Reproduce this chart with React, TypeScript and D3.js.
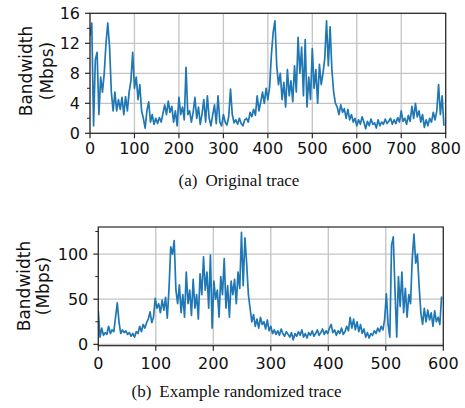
import React from "react";
import * as d3 from "d3";

// ---------- DATA ----------
// (a) Original trace, one sample every 4 s (Mbps)
const STEP_A = 4;
const traceA: number[] = [
  13.0, 14.7, 1.0, 9.8, 10.8, 2.5, 7.5, 5.5, 8.0, 12.0,
  14.7, 11.5, 5.5, 3.0, 5.5, 3.0, 4.5, 3.2, 4.8, 2.5,
  4.9, 3.0, 5.5, 7.0, 10.8, 6.0, 7.5, 4.5, 6.5, 3.0,
  2.0, 0.7, 3.0, 4.2, 1.5, 2.5, 1.2, 2.0, 1.3, 2.1,
  1.5, 2.6, 3.8, 2.5, 4.3, 2.8, 3.6, 1.5, 3.0, 1.0,
  4.8, 2.5, 3.5, 1.8, 8.8, 2.5, 3.0, 1.5, 2.8, 4.8,
  2.0, 3.5, 1.2, 2.6, 4.5, 1.5, 5.0, 2.0, 1.0, 2.5,
  3.8, 1.3, 5.0, 1.5, 1.0, 2.5, 1.5, 1.1, 2.2, 5.9,
  2.5, 1.4, 1.8, 1.2, 2.0, 1.3, 1.0, 1.8, 2.0, 1.5,
  2.8, 2.2, 3.2, 2.4, 5.0, 3.0, 4.2, 5.5, 4.0, 6.0,
  4.5, 6.2, 10.5, 13.5, 15.0, 9.0, 6.5, 8.0, 4.5, 6.8,
  3.5, 8.5, 5.0, 7.0, 4.2, 9.0, 5.5, 12.8, 8.0, 11.5,
  5.0, 12.5, 3.5, 7.5, 4.5, 11.3, 6.0, 8.5, 4.0, 9.2,
  6.5, 8.0, 10.0, 15.0, 9.0, 14.2, 8.5, 5.5, 4.0, 3.5,
  2.5, 3.8, 2.8, 3.3, 2.0, 3.2, 1.8, 2.5, 1.5, 2.0,
  1.0, 1.8, 1.2, 2.2, 1.5, 0.6, 1.6, 1.0, 1.9, 1.2,
  1.4, 0.7, 1.8, 1.0, 1.5, 1.2, 1.9, 1.3, 1.6, 2.0,
  1.2, 1.8, 1.3, 2.1, 1.5, 3.0, 1.6, 2.0, 1.2, 2.4,
  1.6, 3.6, 2.0, 4.0, 2.2, 3.0, 1.5, 2.5, 0.8, 1.8,
  1.0, 2.0, 1.5, 2.8, 1.8, 3.0, 6.5, 2.5, 5.0, 1.0,
];

// (b) Example randomized trace, one sample every 3 s (Mbps)
const STEP_B = 3;
const traceB: number[] = [
  37, 8, 18, 10, 13, 11, 20, 12, 16, 14,
  30, 46, 25, 12, 16, 13, 15, 11, 13, 9,
  12, 8, 14, 12, 20, 14, 22, 18, 24, 28,
  36, 24, 30, 51, 40, 45, 35, 49, 38, 52,
  29, 62, 108, 100, 115, 60, 45, 66, 35, 55,
  30, 80, 45, 60, 32, 72, 40, 55, 28, 78,
  55, 97, 60, 80, 40, 99, 18, 70, 50, 60,
  30, 75, 55, 95, 40, 65, 30, 70, 55, 72,
  45, 80, 62, 124, 65, 118, 90, 55, 40, 25,
  33, 20, 28, 18, 30, 22, 25, 17, 27, 15,
  20, 12, 16, 11, 15, 10, 17, 12, 9, 14,
  11, 8, 13, 5, 12, 9, 14, 10, 16, 8,
  12, 7, 13, 10, 15, 9, 12, 16, 10, 13,
  17, 11, 15, 12, 18, 22, 13, 16, 10, 15,
  12, 18, 11, 14, 20, 15, 30, 18, 28, 16,
  25, 14, 22, 12, 17, 8, 13, 7, 12, 10,
  15, 12, 18, 14, 20, 16, 28, 56, 22, 8,
  110, 119, 60, 8, 75, 42, 80, 35, 62, 30,
  55, 45, 95, 122, 90, 100, 64, 35, 22, 40,
  25, 38, 27, 35, 20, 37, 25, 30, 22, 53,
];

const xTicksA = [0, 100, 200, 300, 400, 500, 600, 700, 800];
const yTicksA = [0, 4, 8, 12, 16];
const yMinorA = [2, 6, 10, 14];
const xTicksB = [0, 100, 200, 300, 400, 500, 600];
const yTicksB = [0, 50, 100];
const yMinorB = [25, 75, 125];

const yLabelLines = ["Bandwidth", "(Mbps)"];
const captionA = ["(a)", "Original trace"];
const captionB = ["(b)", "Example randomized trace"];

// ---------- DRAWING ----------
const SANS = "'DejaVu Sans', sans-serif";
const SERIF = "'Liberation Serif', 'DejaVu Serif', serif";
const LINE = "#1f77b4";
const GRID = "#c4c4c4";
const SPINE = "#262626";

type PanelProps = {
  values: number[];
  step: number;
  xDomain: [number, number];
  yDomain: [number, number];
  left: number;
  right: number;
  top: number;
  bottom: number;
  xTicks: number[];
  yTicks: number[];
  yMinor: number[];
  labelX: [number, number];
  labelY: number;
  caption: string[];
  captionX: number;
  captionY: number;
  xLabelGap: number;
};

function Panel(p: PanelProps) {
  const x = d3.scaleLinear().domain(p.xDomain).range([p.left, p.right]);
  const y = d3.scaleLinear().domain(p.yDomain).range([p.bottom, p.top]);
  const line = d3
    .line<number>()
    .x((_, i) => x(i * p.step))
    .y((d) => y(d));
  const clipId = `clip-${Math.round(p.top)}`;
  return (
    <g>
      <defs>
        <clipPath id={clipId}>
          <rect x={p.left} y={p.top} width={p.right - p.left} height={p.bottom - p.top} />
        </clipPath>
      </defs>
      {p.xTicks.map((t) => (
        <line key={`gx${t}`} x1={x(t)} x2={x(t)} y1={p.top} y2={p.bottom} stroke={GRID} strokeWidth={1.3} />
      ))}
      {p.yTicks.map((t) => (
        <line key={`gy${t}`} x1={p.left} x2={p.right} y1={y(t)} y2={y(t)} stroke={GRID} strokeWidth={1.3} />
      ))}
      <path
        d={line(p.values) || ""}
        fill="none"
        stroke={LINE}
        strokeWidth={1.7}
        strokeLinejoin="round"
        clipPath={`url(#${clipId})`}
      />
      <rect
        x={p.left}
        y={p.top}
        width={p.right - p.left}
        height={p.bottom - p.top}
        fill="none"
        stroke={SPINE}
        strokeWidth={1.2}
      />
      {p.xTicks.map((t) => (
        <g key={`xt${t}`}>
          <line x1={x(t)} x2={x(t)} y1={p.bottom} y2={p.bottom + 5} stroke={SPINE} strokeWidth={1.2} />
          <text
            x={x(t)}
            y={p.bottom + p.xLabelGap}
            textAnchor="middle"
            dominantBaseline="hanging"
            fontFamily={SANS}
            fontSize={16}
            fill="#111"
          >
            {t}
          </text>
        </g>
      ))}
      {p.yTicks.map((t) => (
        <g key={`yt${t}`}>
          <line x1={p.left - 5} x2={p.left} y1={y(t)} y2={y(t)} stroke={SPINE} strokeWidth={1.2} />
          <text
            x={p.left - 10}
            y={y(t)}
            textAnchor="end"
            dominantBaseline="central"
            fontFamily={SANS}
            fontSize={16}
            fill="#111"
          >
            {t}
          </text>
        </g>
      ))}
      {p.yMinor.map((t) => (
        <line key={`ym${t}`} x1={p.left - 3} x2={p.left} y1={y(t)} y2={y(t)} stroke={SPINE} strokeWidth={1} />
      ))}
      {yLabelLines.map((s, i) => (
        <text
          key={s}
          transform={`translate(${p.labelX[i]},${p.labelY}) rotate(-90)`}
          textAnchor="middle"
          dominantBaseline="central"
          fontFamily={SANS}
          fontSize={17}
          fill="#111"
        >
          {s}
        </text>
      ))}
      <text x={p.captionX} y={p.captionY} textAnchor="middle" fontFamily={SERIF} fontSize={17} fill="#111">
        <tspan>{p.caption[0]}</tspan>
        <tspan dx={8}>{p.caption[1]}</tspan>
      </text>
    </g>
  );
}

export default function App() {
  return (
    <svg
      width={465}
      height={408}
      viewBox="0 0 465 408"
      style={{ position: "fixed", left: 0, top: 0, background: "#fff" }}
    >
      <rect x={0} y={0} width={465} height={408} fill="#fff" />
      <Panel
        values={traceA}
        step={STEP_A}
        xDomain={[0, 800]}
        yDomain={[0, 16]}
        left={90}
        right={445.7}
        top={13.3}
        bottom={133.3}
        xTicks={xTicksA}
        yTicks={yTicksA}
        yMinor={yMinorA}
        labelX={[25.5, 46.5]}
        labelY={71}
        caption={captionA}
        captionX={239}
        captionY={186}
        xLabelGap={9}
      />
      <Panel
        values={traceB}
        step={STEP_B}
        xDomain={[0, 600]}
        yDomain={[-1.5, 130]}
        left={98.3}
        right={443.3}
        top={227}
        bottom={345.7}
        xTicks={xTicksB}
        yTicks={yTicksB}
        yMinor={yMinorB}
        labelX={[24, 42.5]}
        labelY={286}
        caption={captionB}
        captionX={236.5}
        captionY={397}
        xLabelGap={11}
      />
    </svg>
  );
}
